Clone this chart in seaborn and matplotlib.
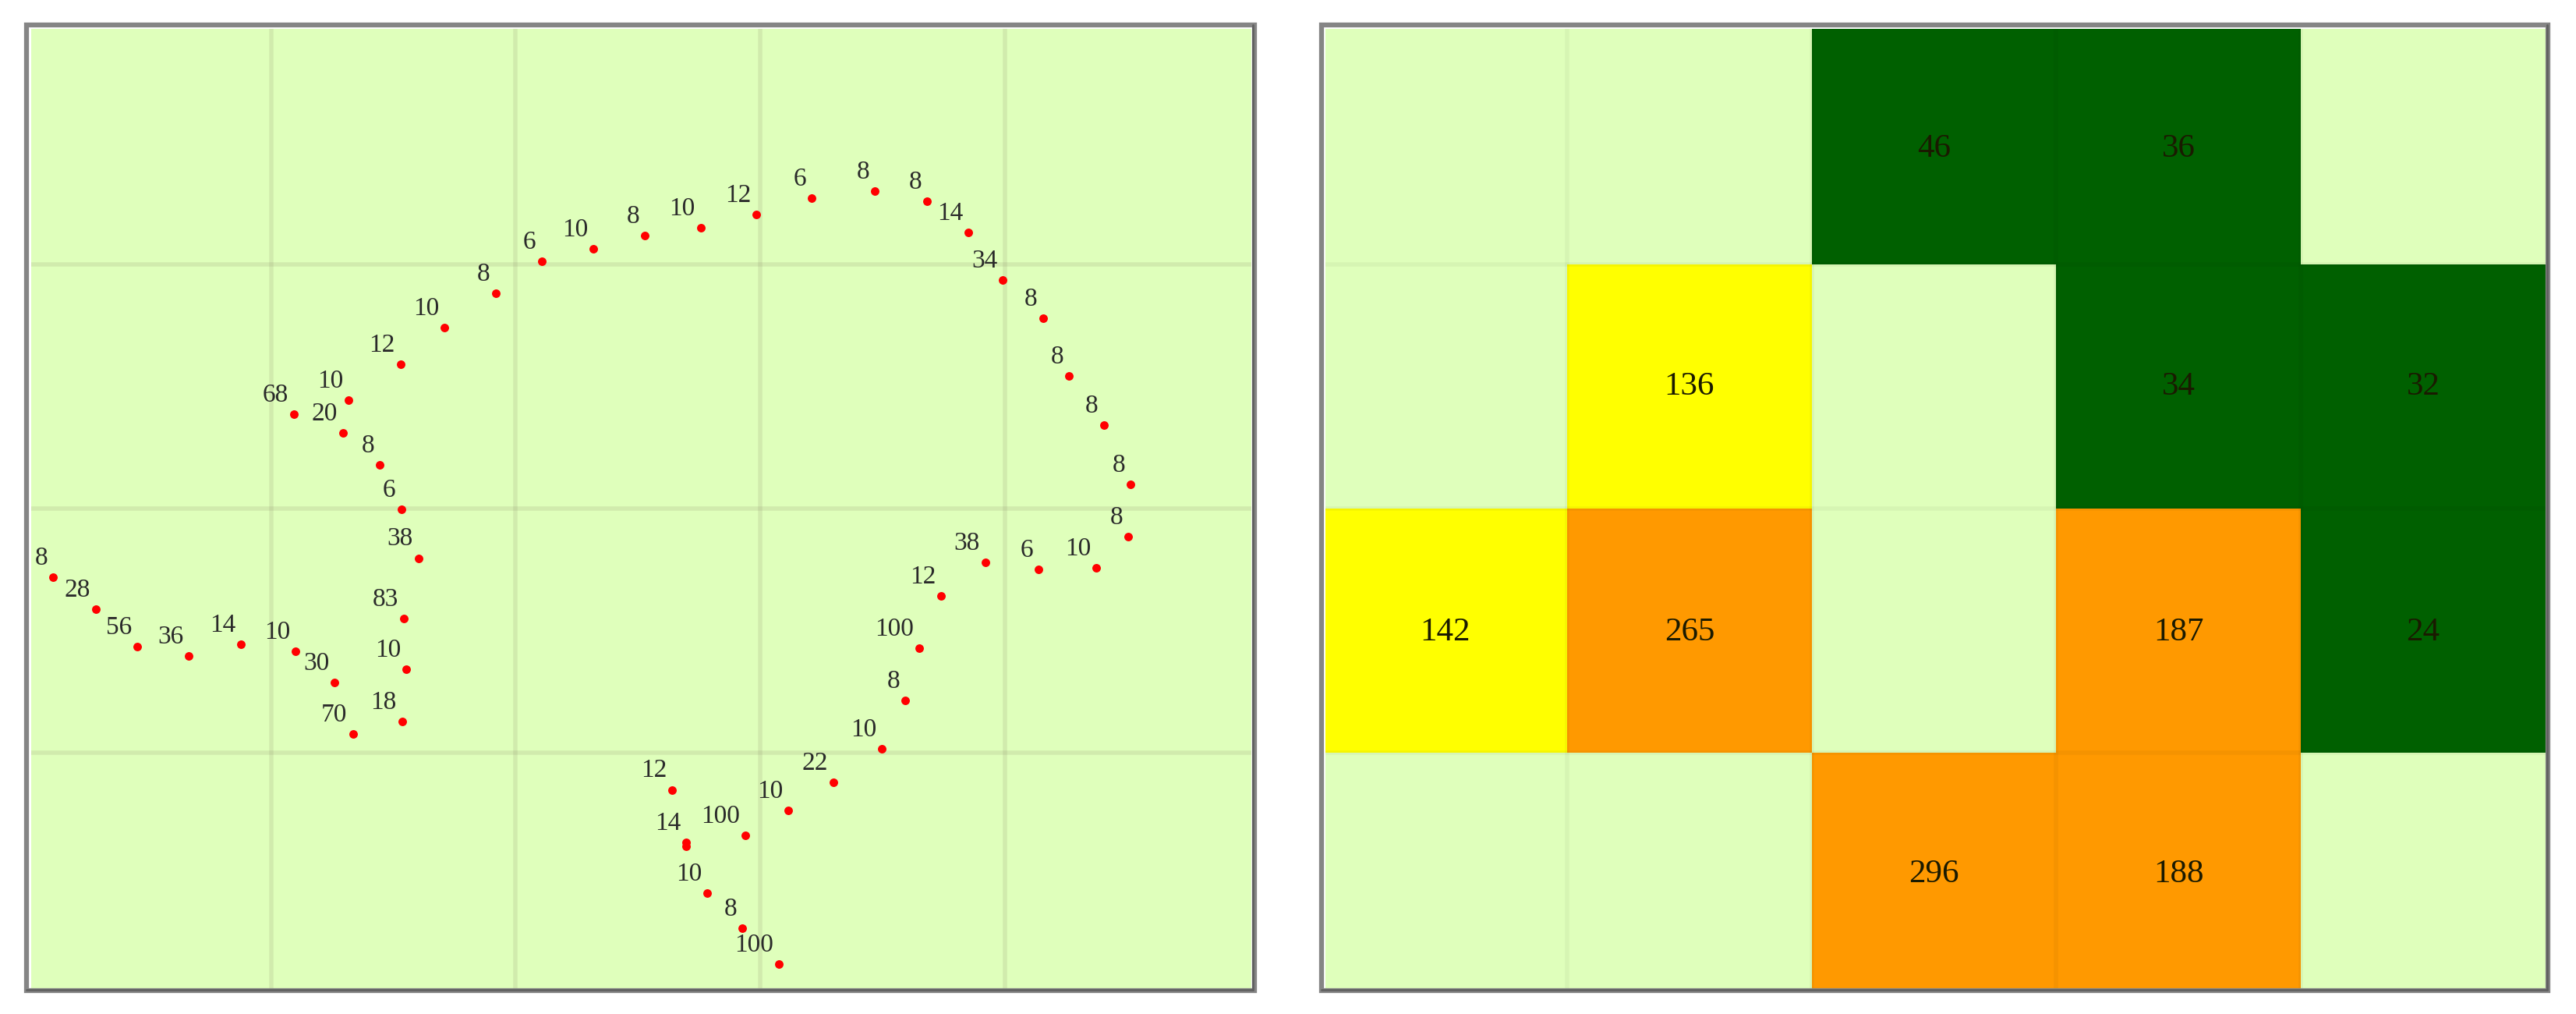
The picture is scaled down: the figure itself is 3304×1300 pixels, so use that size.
import numpy as np
import seaborn as sns
import matplotlib.pyplot as plt
from matplotlib.colors import ListedColormap, BoundaryNorm
from matplotlib.lines import Line2D
from matplotlib.patches import Rectangle

# points, the last two near 836 sit on top of each other and share a label
point_x = [65, 117, 167, 230, 294, 360, 408, 430, 490, 495, 492, 510, 489, 463, 418, 358, 425,
           488, 542, 604, 660, 723, 786, 854, 922, 989, 1066, 1130, 1180, 1222, 1271, 1303, 1345,
           1378, 1375, 1336, 1266, 1201, 1147, 1120, 1103, 1075, 1016, 961, 908, 819, 836, 836,
           862, 905, 949]
point_y = [892, 942, 1000, 1014, 996, 1007, 1055, 1135, 1116, 1035, 956, 863, 788, 719, 669, 641,
           619, 563, 507, 454, 404, 385, 365, 353, 332, 307, 296, 311, 360, 433, 492, 581, 657,
           749, 830, 878, 880, 870, 921, 1002, 1083, 1158, 1210, 1253, 1291, 1221, 1302, 1308,
           1381, 1435, 1490]
point_counts = [8, 28, 56, 36, 14, 10, 30, 70, 18, 10, 83, 38, 6, 8, 20, 68, 10,
                12, 10, 8, 6, 10, 8, 10, 12, 6, 8, 8, 14, 34, 8, 8, 8,
                8, 8, 10, 6, 38, 12, 100, 8, 10, 22, 10, 100, 12, 14, None,
                10, 8, 100]
grid_x = [331, 628, 926, 1225]
grid_y = [409, 786, 1164]

# cell totals for the right map, 0 means empty
cell_totals = [[0, 0, 46, 36, 0],
               [0, 136, 0, 34, 32],
               [142, 265, 0, 187, 24],
               [0, 0, 296, 188, 0]]

FILL = '#DFFFBB'
cell_colors = [FILL, '#006000', '#FFFF00', '#FF9900']
cell_bins = [0, 1, 100, 150, 1000]
row_text_shift = [0.027, 0, 0.006, -0.003]

W, H = 3304, 1300


def axes_at(fig, x0, x1, y0, y1):
    return fig.add_axes([x0 / W, 1 - y1 / H, (x1 - x0) / W, (y1 - y0) / H])


def frame(fig, x0, x1, y0, y1):
    fig.add_artist(Rectangle((x0 / W, 1 - y1 / H), (x1 - x0) / W, (y1 - y0) / H,
                             transform=fig.transFigure, fill=False,
                             edgecolor='#858585', linewidth=4.5, zorder=5))
    # right and bottom edges are a bit darker on the inside
    xr, yb = (x1 - 1.5) / W, 1 - (y1 - 1.5) / H
    fig.add_artist(Line2D([xr, xr], [1 - y0 / H, yb], color='#606060', linewidth=2, zorder=6))
    fig.add_artist(Line2D([x0 / W, xr], [yb, yb], color='#606060', linewidth=2, zorder=6))


sns.set_style('white')
plt.rcParams['font.family'] = ['Liberation Serif', 'DejaVu Serif']

fig = plt.figure(figsize=(W / 100, H / 100), dpi=100)

### left panel
ax = axes_at(fig, 40, 1605, 37, 1268)
ax.set_facecolor(FILL)
sns.scatterplot(x=point_x, y=point_y, color='red', s=62, linewidth=0, ax=ax, zorder=3)
for px, py, n in zip(point_x, point_y, point_counts):
    if n is None:
        continue
    ax.annotate(str(n), (px, py), xytext=(-5, 17.5), textcoords='offset points',
                ha='right', va='center', fontsize=24, color='#2a2a2a', zorder=4)
ax.set_xlim(38, 1525)
ax.set_ylim(1529, 45)
ax.set_xticks(grid_x)
ax.set_yticks(grid_y)
ax.set_xticklabels([])
ax.set_yticklabels([])
ax.tick_params(length=0)
ax.grid(True, color='#706050', alpha=0.12, linewidth=4)
ax.set_axisbelow(True)
sns.despine(ax=ax, left=True, bottom=True)
frame(fig, 34, 1608.5, 32, 1270)

### right panel
ax2 = axes_at(fig, 1700, 3265, 37, 1268)
totals = np.array(cell_totals)
labels = [[str(v) if v else '' for v in row] for row in cell_totals]
sns.heatmap(totals, annot=labels, fmt='', cmap=ListedColormap(cell_colors),
            norm=BoundaryNorm(cell_bins, len(cell_colors)), cbar=False, square=False,
            annot_kws={'fontsize': 31, 'color': '#1a1a00'}, ax=ax2)
for t in ax2.texts:
    x, y = t.get_position()
    t.set_position((x, y + row_text_shift[int(y)]))
ax2.vlines([1, 2, 3, 4], 0, 4, color='black', alpha=0.04, linewidth=4)
ax2.hlines([1, 2, 3], 0, 5, color='black', alpha=0.04, linewidth=4)
ax2.set_xlim(0.012, 5)
ax2.set_ylim(3.968, 0.035)
ax2.set_xticks([])
ax2.set_yticks([])
frame(fig, 1695.5, 3268, 32, 1270)

fig.savefig('out.png', dpi=100, facecolor='white')
